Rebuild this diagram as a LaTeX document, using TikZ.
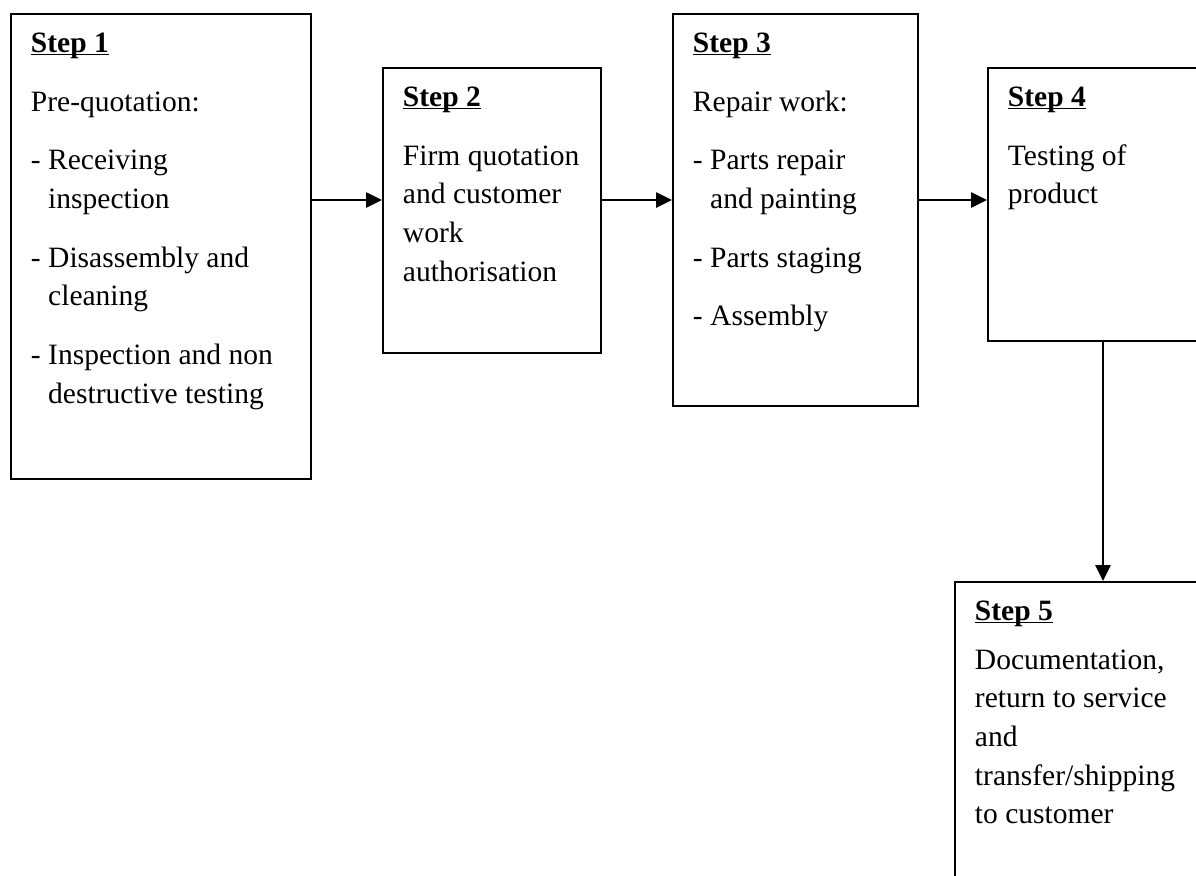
\documentclass[tikz,border=0pt]{standalone}
\usepackage{fontspec}
\setmainfont{Liberation Serif}
\usepackage{tikz}
\usetikzlibrary{positioning,arrows.meta}

\newcommand{\steptitle}[1]{\setbox0\hbox{\textbf{#1}}\rlap{\rule[-0.1em]{\wd0}{0.06em}}\box0}
\newcommand{\subindent}{\phantom{- }}

\begin{document}
\begin{tikzpicture}[line width=1.4pt,
	stepbox/.style={draw, rectangle, inner sep=0pt, anchor=north west},
	steptext/.style={align=flush left, inner sep=0pt, text width=7cm, font=\fontsize{21}{27.5}\selectfont},
	flowarrow/.style={-{Triangle[length=0.4cm,width=0.38cm]}}]
	% page
	\useasboundingbox (0,0) rectangle (29.9,-21.875);
	\clip (0,0) rectangle (29.9,-21.875);

	% boxes
	\node[stepbox, minimum width=7.5cm, minimum height=11.625cm] (s1) at (0.25,-0.325) {};
	\node[stepbox, minimum width=5.45cm, minimum height=7.125cm] (s2) at (9.55,-1.675) {};
	\node[stepbox, minimum width=6.125cm, minimum height=9.8cm] (s3) at (16.8,-0.325) {};
	\node[stepbox, minimum width=5.75cm, minimum height=6.825cm] (s4) at (24.675,-1.675) {};
	\node[stepbox, minimum width=7.4cm, minimum height=8.1cm] (s5) at (23.85,-14.525) {};

	% texts
	\node[steptext, below right=0.475cm and 0.5cm of s1.north west] (t1) {\steptitle{Step 1}\\[0.5cm]
		Pre-quotation:\\[0.5cm]
		- Receiving\\ \subindent inspection\\[0.5cm]
		- Disassembly and\\ \subindent cleaning\\[0.5cm]
		- Inspection and non\\ \subindent destructive testing};
	\node[steptext, below right=0.475cm and 0.5cm of s2.north west] (t2) {\steptitle{Step 2}\\[0.5cm]
		Firm quotation\\ and customer\\ work\\ authorisation};
	\node[steptext, below right=0.475cm and 0.5cm of s3.north west] (t3) {\steptitle{Step 3}\\[0.5cm]
		Repair work:\\[0.5cm]
		- Parts repair\\ \subindent and painting\\[0.5cm]
		- Parts staging\\[0.5cm]
		- Assembly};
	\node[steptext, below right=0.475cm and 0.5cm of s4.north west] (t4) {\steptitle{Step 4}\\[0.5cm]
		Testing of\\ product};
	\node[steptext, below right=0.475cm and 0.5cm of s5.north west] (t5) {\steptitle{Step 5}\\[0.25cm]
		Documentation,\\ return to service\\ and\\ transfer/shipping\\ to customer};

	% arrows
	\coordinate (flow) at (0,-5);
	\draw[flowarrow] (s1.east |- flow) -- (s2.west |- flow);
	\draw[flowarrow] (s2.east |- flow) -- (s3.west |- flow);
	\draw[flowarrow] (s3.east |- flow) -- (s4.west |- flow);
	\draw[flowarrow] (s4.south) -- (s5.north);

\end{tikzpicture}
\end{document}
